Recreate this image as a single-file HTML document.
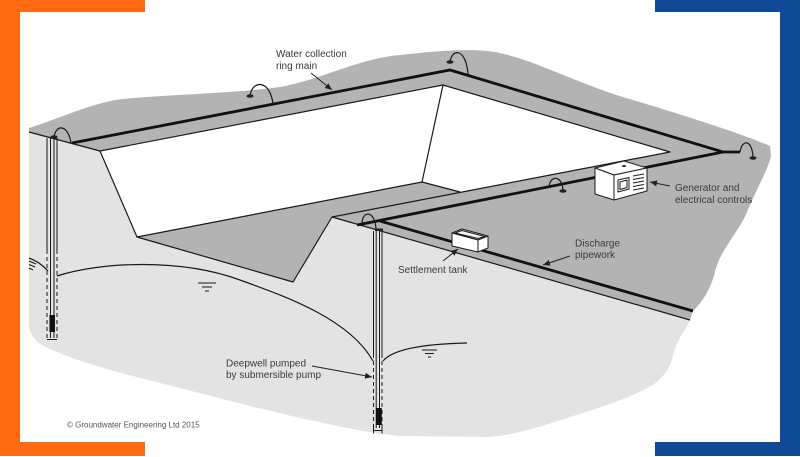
<!DOCTYPE html>
<html>
<head>
<meta charset="utf-8">
<style>
  html, body { margin:0; padding:0; background:#fff; }
  body { width:800px; height:457px; overflow:hidden; }
  svg { display:block; }
  text { font-family: "Liberation Sans", Arial, sans-serif; fill:#3a3a3a; }
</style>
</head>
<body>
<svg width="800" height="457" viewBox="0 0 800 457" xmlns="http://www.w3.org/2000/svg">
  <defs>
    <marker id="ah" markerWidth="8" markerHeight="6" refX="7" refY="3" orient="auto" markerUnits="userSpaceOnUse">
      <path d="M0,0 L7,3 L0,6 Z" fill="#222"/>
    </marker>
  </defs>
  <rect x="0" y="0" width="800" height="457" fill="#ffffff"/>

  <!-- frame bars -->
  <rect x="0" y="0" width="145" height="12" fill="#ff6a13"/>
  <rect x="0" y="0" width="20" height="456" fill="#ff6a13"/>
  <rect x="0" y="442" width="145" height="14" fill="#ff6a13"/>
  <rect x="655" y="0" width="145" height="12" fill="#104a96"/>
  <rect x="780" y="0" width="20" height="456" fill="#104a96"/>
  <rect x="655" y="442" width="145" height="14" fill="#104a96"/>

  <!-- light grey cross-section -->
  <path fill="#e3e3e3" d="M29,128 L29,132 L100,151 L137,237 L293,282 L332,217 L690,320
     C686,330 678,338 674,352 C671,365 668,373 653,385 C630,398 600,408 567,418
     C540,427 510,436 487,437 L400,436 C360,432 330,424 300,418
     C240,404 180,388 133,376 C90,365 52,352 39,343 C31,336 29,330 29,323 Z"/>

  <!-- dark grey ground surface -->
  <path fill="#b3b3b3" d="M29,128 C55,120 85,106 115,100 C150,95 230,94 280,87
     C320,80 360,58 400,55 C430,52 470,47 500,53 C540,62 580,85 633,100
     C680,114 740,133 770,146 L771,156 C768,170 755,192 747,212
     C740,230 722,248 716,268 C711,290 702,302 693,311 L690,320
     L332,217 L293,282 L137,237 L100,151 L29,132 Z"/>

  <!-- pit walls (white) -->
  <polygon fill="#ffffff" points="100,151 443,85 670,152 460,192 422,182 137,237"/>

  <!-- thin edges -->
  <g stroke="#1a1a1a" stroke-width="1.2" fill="none" stroke-linejoin="round">
    <polyline points="29,132 100,151 137,237 293,282 332,217 690,320"/>
    <polyline points="100,151 443,85 670,152 332,217"/>
    <polyline points="443,85 422,182"/>
    <polyline points="137,237 422,182 460,192"/>
  </g>

  <!-- drawdown curves -->
  <g stroke="#1a1a1a" stroke-width="1.2" fill="none">
    <path d="M57,276 C100,262 180,258 240,280 C290,298 350,320 373,361"/>
    <path d="M29,258 Q40,262 48,271"/>
    <path d="M383,361 C392,350 420,344 467,343"/>
  </g>
  <!-- water table symbols -->
  <g stroke="#1a1a1a" stroke-width="1" fill="none">
    <line x1="198" y1="283" x2="216" y2="283"/>
    <line x1="202" y1="287" x2="212" y2="287"/>
    <line x1="205" y1="291" x2="209" y2="291"/>
    <line x1="422" y1="350" x2="437" y2="350"/>
    <line x1="425" y1="353.5" x2="434" y2="353.5"/>
    <line x1="428" y1="357" x2="431" y2="357"/>
    <line x1="29" y1="261" x2="36" y2="264"/>
    <line x1="29" y1="264.5" x2="35" y2="267"/>
    <line x1="29" y1="268" x2="33" y2="270"/>
  </g>

  <!-- pipes -->
  <g stroke="#111" stroke-width="2.8" fill="none" stroke-linejoin="miter">
    <polyline points="72,143 450,70 723,152 740,152"/>
    <polyline points="357,225 723,152"/>
    <polyline points="380,221 693,311"/>
  </g>

  <!-- wellhead arcs -->
  <g stroke="#1a1a1a" stroke-width="1.2" fill="none">
    <path d="M54,137 C56,124 68,124 71,143"/>
    <path d="M250,96 C252,80 270,79 273,104"/>
    <path d="M450,62 C452,48 466,48 468,74"/>
    <path d="M740,152 C742,139 752,139 753,157"/>
    <path d="M549,187 C550,175 562,175 563,190"/>
    <path d="M362,224 C362,210 375,210 376,229"/>
  </g>
  <g fill="#222">
    <ellipse cx="54" cy="137" rx="3.5" ry="1.8"/>
    <ellipse cx="250" cy="96" rx="3.5" ry="1.8"/>
    <ellipse cx="450" cy="62" rx="3.5" ry="1.8"/>
    <ellipse cx="753" cy="158" rx="3.5" ry="1.8"/>
    <ellipse cx="563" cy="191" rx="3.5" ry="1.8"/>
    <rect x="375" y="228.5" width="8" height="2.5"/>
  </g>

  <!-- left well -->
  <g stroke="#1a1a1a" stroke-width="1" fill="none">
    <line x1="47" y1="138" x2="47" y2="250"/>
    <line x1="57" y1="138" x2="57" y2="250"/>
    <line x1="47" y1="250" x2="47" y2="339" stroke-dasharray="4,3"/>
    <line x1="57" y1="250" x2="57" y2="339" stroke-dasharray="4,3"/>
    <line x1="50.5" y1="138" x2="50.5" y2="338"/>
    <line x1="54" y1="138" x2="54" y2="338"/>
    <line x1="47" y1="339.5" x2="57" y2="339.5"/>
  </g>
  <rect x="49.5" y="315" width="5.5" height="17" fill="#111"/>

  <!-- center well -->
  <g stroke="#1a1a1a" stroke-width="1" fill="none">
    <line x1="373.5" y1="231" x2="373.5" y2="358"/>
    <line x1="382" y1="231" x2="382" y2="358"/>
    <line x1="373.5" y1="361" x2="373.5" y2="428" stroke-dasharray="4,3"/>
    <line x1="382" y1="361" x2="382" y2="428" stroke-dasharray="4,3"/>
    <line x1="376.2" y1="231" x2="376.2" y2="428"/>
    <line x1="379.5" y1="231" x2="379.5" y2="428"/>
    <line x1="373.5" y1="430.5" x2="382" y2="430.5"/>
    <line x1="373.5" y1="427.5" x2="373.5" y2="433.5"/>
    <line x1="382" y1="427.5" x2="382" y2="433.5"/>
  </g>
  <rect x="376" y="408" width="5.8" height="17" fill="#111"/>

  <!-- generator -->
  <g stroke="#1a1a1a" stroke-width="1" fill="#ffffff" stroke-linejoin="round">
    <polygon points="595,168 624,161 647,168 614,175"/>
    <polygon points="595,168 614,175 614,200 595,194"/>
    <polygon points="614,175 647,168 647,191 614,200"/>
    <polygon points="618,180 629,177.5 629,189 618,192"/>
    <polygon points="620,182 627,180 627,187.5 620,189.5"/>
  </g>
  <ellipse cx="624" cy="166" rx="2" ry="1" fill="#222"/>
  <g stroke="#1a1a1a" stroke-width="1">
    <line x1="633" y1="176" x2="644" y2="174"/>
    <line x1="633" y1="179.5" x2="644" y2="177.5"/>
    <line x1="633" y1="183" x2="644" y2="181"/>
    <line x1="633" y1="186.5" x2="644" y2="184.5"/>
    <line x1="633" y1="190" x2="644" y2="188"/>
  </g>

  <!-- settlement tank -->
  <g stroke="#1a1a1a" stroke-width="1" fill="#ffffff" stroke-linejoin="round">
    <polygon points="452,233 462,229 488,236 478,240"/>
    <polygon points="455,233 462,230.5 485,236.5 478,238.5" fill="#f2f2f2"/>
    <polygon points="452,233 478,240 478,252 452,246"/>
    <polygon points="478,240 488,236 488,248 478,252"/>
  </g>

  <!-- leader arrows -->
  <g stroke="#222" stroke-width="1" fill="none" marker-end="url(#ah)">
    <line x1="311" y1="73" x2="332" y2="90"/>
    <line x1="670" y1="186" x2="650" y2="182"/>
    <line x1="443" y1="261" x2="458" y2="249"/>
    <line x1="570" y1="256" x2="543" y2="265"/>
    <line x1="312" y1="366" x2="372" y2="377"/>
  </g>

  <!-- labels -->
  <text x="276" y="57" font-size="10">Water collection</text>
  <text x="276" y="69" font-size="10">ring main</text>
  <text x="675" y="191" font-size="10">Generator and</text>
  <text x="675" y="203" font-size="10">electrical controls</text>
  <text x="398" y="273" font-size="10">Settlement tank</text>
  <text x="575" y="246.5" font-size="10">Discharge</text>
  <text x="575" y="258" font-size="10">pipework</text>
  <text x="226" y="366.5" font-size="10">Deepwell pumped</text>
  <text x="226" y="378" font-size="10">by submersible pump</text>
  <text x="67" y="427.5" font-size="8" style="fill:#555">© Groundwater Engineering Ltd 2015</text>
</svg>
</body>
</html>
